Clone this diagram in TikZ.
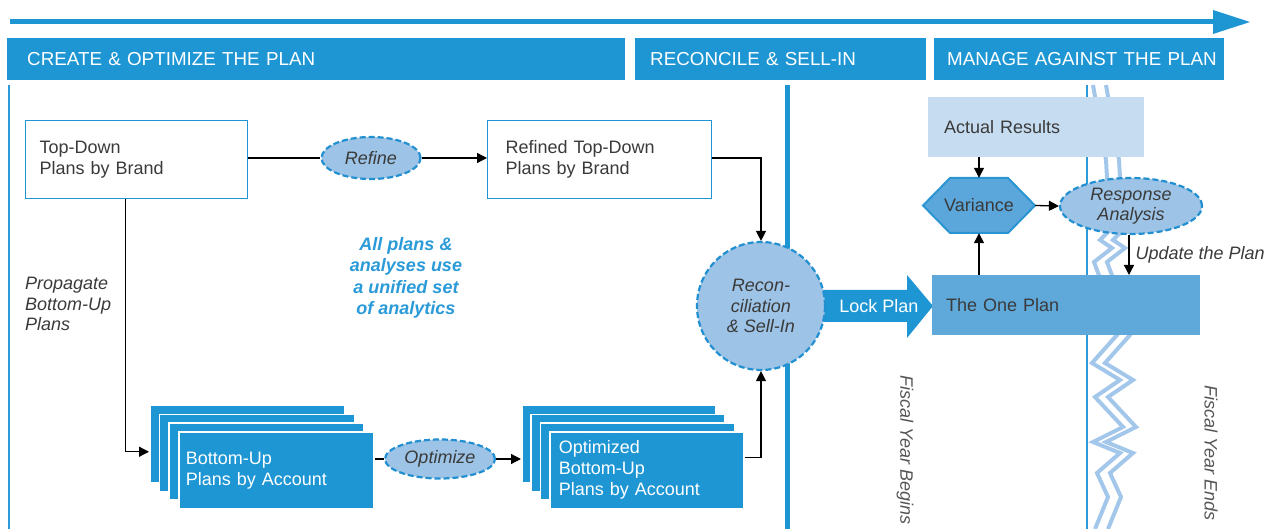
\documentclass[tikz,border=0pt]{standalone}
\usepackage{fontspec}
\setmainfont{Liberation Sans}
\usetikzlibrary{arrows.meta,shapes.geometric,calc}
\definecolor{hdr}{HTML}{1E96D4}
\definecolor{txt}{HTML}{3A3A3A}
\definecolor{itblue}{HTML}{2A9AD8}
\definecolor{ellf}{HTML}{9DC3E6}
\definecolor{elld}{HTML}{2290D0}
\definecolor{oneplan}{HTML}{5FA8DA}
\definecolor{actual}{HTML}{C6DCF0}
\definecolor{varf}{HTML}{5BA6DA}
\definecolor{vard}{HTML}{2B95D3}
\definecolor{zig}{HTML}{A3C7EA}
\definecolor{thinc}{HTML}{2C9BD8}
\definecolor{fisc}{HTML}{555555}
\begin{document}
\begin{tikzpicture}[x=1pt,y=-1pt,
  every node/.style={font=\fontsize{18}{21}\selectfont, text=txt},
  hdrbox/.style={anchor=north west, fill=hdr, minimum height=42pt, inner ysep=0pt, align=left, text=white, font=\fontsize{18.8}{22}\selectfont},
  wbox/.style={anchor=north west, draw=hdr, line width=1pt, fill=white, minimum height=78pt, align=left},
  dashell/.style={ellipse, draw=elld, dash pattern=on 6pt off 3pt, line width=2.2pt, fill=ellf, inner sep=0pt, align=center, font=\fontsize{18}{20.5}\selectfont\itshape},
  stackbox/.style={anchor=north west, fill=hdr, draw=white, line width=1.5pt, minimum width=195pt, minimum height=77pt, inner sep=0pt},
  frontbox/.style={stackbox, align=left, text=white},
  arr/.style={draw=black, line width=1.3pt, -{Triangle[length=10pt,width=10pt]}},
  ln/.style={draw=black, line width=1.3pt},
  plain/.style={inner sep=0pt},
  zigline/.style={draw=zig, line width=4pt, line join=miter}
]
\useasboundingbox (0,0) rectangle (1286,529);

% timeline
\coordinate (tl0) at (10,22);
\coordinate (tl1) at (1215,22);
\coordinate (tltip) at (1250,22);
\draw[hdr, line width=5pt] (tl0) -- (tl1);
\fill[hdr] ($(tl1)+(-2,-12)$) -- (tltip) -- ($(tl1)+(-2,12)$) -- cycle;

% headers
\node[hdrbox, text width=578pt, inner xsep=20pt] (h1) at (7,38) {\mbox{CREATE \& OPTIMIZE THE PLAN}};
\node[hdrbox, text width=261pt, inner xsep=15pt] (h2) at (635,38) {\mbox{RECONCILE \& SELL-IN}};
\node[hdrbox, text width=264pt, inner xsep=13pt] (h3) at (934,38) {\mbox{MANAGE AGAINST THE PLAN}};

% vertical dividers
\draw[draw=thinc, line width=1.3pt] (9,85) -- (9,529);
\draw[draw=hdr, line width=5pt] (787.5,85) -- (787.5,529);
\draw[draw=thinc, line width=1.2pt] (1087,85) -- (1087,529);
\draw[zigline] (1093,85) -- (1106,160) -- (1110,230) -- (1100,240) -- (1112,248) -- (1094,262) -- (1100,278) -- (1117,335) -- (1092,363) -- (1120,380) -- (1095,397) -- (1123,427) -- (1093,442) -- (1120,453) -- (1097,473) -- (1108,497) -- (1095,529);
\draw[zigline] (1106,85) -- (1119,160) -- (1123,230) -- (1113,240) -- (1125,248) -- (1107,262) -- (1113,278) -- (1130,335) -- (1105,363) -- (1133,380) -- (1108,397) -- (1136,427) -- (1106,442) -- (1133,453) -- (1110,473) -- (1121,497) -- (1108,529);

% plan boxes
\node[wbox, text width=194pt, inner xsep=14pt] (td) at (25,120) {Top-Down\\Plans by Brand};
\node[wbox, text width=188pt, inner xsep=18pt] (rtd) at (487,120) {Refined Top-Down\\Plans by Brand};
\node[dashell, minimum width=99pt, minimum height=42pt] (refine) at (371,158) {Refine};

% stacks
\foreach \i in {0,1,2} {
  \node[stackbox] (bu\i) at ({149+9.7*\i},{405+8.7*\i}) {};
}
\node[frontbox, text width=181pt, inner xsep=7pt] (bu3) at (178,431) {Bottom-Up\\Plans by Account};
\foreach \i in {0,1,2} {
  \node[stackbox, minimum width=194pt] (ob\i) at ({521+9.3*\i},{405+8.7*\i}) {};
}
\node[frontbox, minimum width=194pt, text width=176pt, inner xsep=9pt] (ob3) at (549,431) {Optimized\\Bottom-Up\\Plans by Account};
\node[dashell, minimum width=110pt, minimum height=39pt] (optim) at (440,459) {Optimize};

% texts
\node[plain, anchor=west, align=left, font=\fontsize{18}{20.5}\selectfont\itshape] (prop) at (25,304) {Propagate\\Bottom-Up\\Plans};
\node[plain, align=center, text=itblue, font=\fontsize{18}{21.5}\selectfont\bfseries\itshape] (note) at (406,278) {All plans \&\\analyses use\\a unified set\\ of analytics};

% lock plan arrow
\fill[hdr] (800,290) -- (907,290) -- (907,275) -- (933,306) -- (907,338) -- (907,322) -- (800,322) -- cycle;
\node[plain, text=white] (lock) at (879,306) {Lock Plan};

% reconciliation
\node[dashell, circle, minimum size=128pt] (rec) at (761,306) {Recon-\\ciliation\\\& Sell-In};

% manage
\node[anchor=north west, fill=actual, minimum height=60pt, text width=184pt, inner xsep=16pt, align=left] (ar) at (928,97) {Actual Results};
\node[anchor=north west, fill=oneplan, minimum height=60pt, text width=240pt, inner xsep=14pt, align=left] (op) at (932,275) {The One Plan};
\filldraw[fill=varf, draw=vard, line width=2pt, line join=miter] (923,205.5) -- (950,178) -- (1008,178) -- (1035,205.5) -- (1008,233) -- (950,233) -- cycle;
\node[plain, minimum width=112pt, minimum height=55pt] (var) at (979,205.5) {Variance};
\node[dashell, minimum width=142pt, minimum height=56pt] (resp) at (1131,206) {Response\\Analysis};

\node[plain, rotate=-90, font=\fontsize{18}{21}\selectfont\itshape, text=fisc] (fyb) at (905,450) {Fiscal Year Begins};
\node[plain, rotate=-90, font=\fontsize{18}{21}\selectfont\itshape, text=fisc] (fye) at (1211,453) {Fiscal Year Ends};

% connectors
\draw[ln] (td.east |- refine) -- (refine.west);
\draw[arr] (refine.east) -- (refine.east -| rtd.west);
\draw[arr] (rtd.east |- refine) -| (rec.north);
\draw[arr] ([xshift=-11pt]td.south) |- ([yshift=-7.5pt]bu0.west);
\draw[ln] (bu3.east |- optim) -- (optim.west);
\draw[arr] (optim.east) -- (optim.east -| ob0.west);
\draw[arr] ([yshift=13pt]ob3.east) -| (rec.south);
\draw[arr] (ar.south -| var) -- (var.north);
\draw[arr] (op.north -| var) -- (var.south);
\draw[arr] (var.east) -- (resp.west);
\draw[arr] ([xshift=-2pt]resp.south) -- ([xshift=-2pt]resp.south |- op.north)
  node[midway, anchor=west, xshift=6pt, inner sep=0pt, font=\fontsize{18}{21}\selectfont\itshape] (upd) {Update the Plan};
\end{tikzpicture}
\end{document}
